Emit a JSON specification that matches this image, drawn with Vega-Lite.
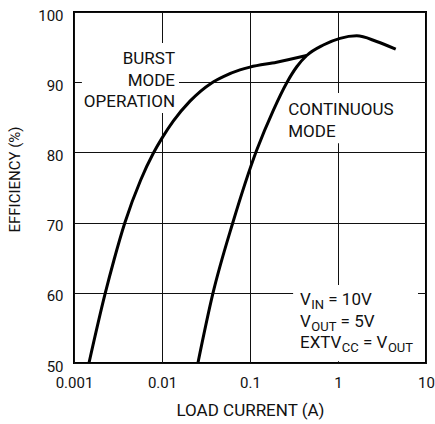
{
  "$schema": "https://vega.github.io/schema/vega-lite/v6.json",
  "width": 352,
  "height": 351,
  "autosize": "none",
  "padding": {"left": 74, "top": 12, "right": 9, "bottom": 61},
  "background": "white",
  "config": {
    "view": {"stroke": "#000", "strokeWidth": 2},
    "axis": {
      "grid": true,
      "gridColor": "#111",
      "gridWidth": 1,
      "gridOpacity": 1,
      "domain": false,
      "ticks": false,
      "labelFont": "Roboto",
      "labelFontSize": 15,
      "labelColor": "#111",
      "titleFont": "Roboto",
      "titleFontWeight": "normal",
      "titleColor": "#111"
    }
  },
  "datasets": {
    "curves": [
      {"series": "burst", "current": 0.00148, "eff": 50},
      {"series": "burst", "current": 0.00225, "eff": 59.8},
      {"series": "burst", "current": 0.002847, "eff": 64.67},
      {"series": "burst", "current": 0.003767, "eff": 69.9},
      {"series": "burst", "current": 0.005728, "eff": 76.07},
      {"series": "burst", "current": 0.007962, "eff": 79.87},
      {"series": "burst", "current": 0.01008, "eff": 82.1},
      {"series": "burst", "current": 0.01342, "eff": 84.45},
      {"series": "burst", "current": 0.0208, "eff": 87.3},
      {"series": "burst", "current": 0.0367, "eff": 89.9},
      {"series": "burst", "current": 0.0498, "eff": 90.8},
      {"series": "burst", "current": 0.0769, "eff": 91.75},
      {"series": "burst", "current": 0.1, "eff": 92.15},
      {"series": "burst", "current": 0.201, "eff": 92.85},
      {"series": "burst", "current": 0.441, "eff": 93.8},
      {"series": "continuous", "current": 0.0256, "eff": 50},
      {"series": "continuous", "current": 0.0377, "eff": 59.8},
      {"series": "continuous", "current": 0.0635, "eff": 69.9},
      {"series": "continuous", "current": 0.119, "eff": 80.3},
      {"series": "continuous", "current": 0.184, "eff": 86.0},
      {"series": "continuous", "current": 0.261, "eff": 89.9},
      {"series": "continuous", "current": 0.34, "eff": 92.2},
      {"series": "continuous", "current": 0.441, "eff": 93.8},
      {"series": "continuous", "current": 0.681, "eff": 95.3},
      {"series": "continuous", "current": 1.054, "eff": 96.25},
      {"series": "continuous", "current": 1.63, "eff": 96.6},
      {"series": "continuous", "current": 2.75, "eff": 95.8},
      {"series": "continuous", "current": 4.53, "eff": 94.7}
    ],
    "boxes": [
      {"x1": 0.00123, "x2": 0.0156, "y1": 85.6, "y2": 95.6},
      {"x1": 0.25, "x2": 4.11, "y1": 81.3, "y2": 88.46},
      {"x1": 0.309, "x2": 8.11, "y1": 50.25, "y2": 61.1}
    ],
    "labels": [
      {"text": "BURST", "x": 0.01406, "y": 92.59, "align": "right", "role": "main"},
      {"text": "MODE", "x": 0.01406, "y": 89.5, "align": "right", "role": "main"},
      {"text": "OPERATION", "x": 0.01406, "y": 86.51, "align": "right", "role": "main"},
      {"text": "CONTINUOUS", "x": 0.272, "y": 85.33, "align": "left", "role": "main"},
      {"text": "MODE", "x": 0.272, "y": 82.24, "align": "left", "role": "main"},
      {"text": "V", "x": 0.37, "y": 58.26, "align": "left", "role": "main"},
      {"text": "IN", "x": 0.4973, "y": 58.26, "align": "left", "role": "sub"},
      {"text": "= 10V", "x": 0.7757, "y": 58.26, "align": "left", "role": "main"},
      {"text": "V", "x": 0.37, "y": 55.17, "align": "left", "role": "main"},
      {"text": "OUT", "x": 0.4973, "y": 55.17, "align": "left", "role": "sub"},
      {"text": "= 5V", "x": 1.07, "y": 55.17, "align": "left", "role": "main"},
      {"text": "EXTV", "x": 0.37, "y": 52.09, "align": "left", "role": "main"},
      {"text": "CC", "x": 1.105, "y": 52.09, "align": "left", "role": "sub"},
      {"text": "= V", "x": 1.923, "y": 52.09, "align": "left", "role": "main"},
      {"text": "OUT", "x": 3.69, "y": 52.09, "align": "left", "role": "sub"}
    ]
  },
  "layer": [
    {
      "data": {"name": "boxes"},
      "mark": {"type": "rect", "fill": "white", "stroke": null},
      "encoding": {
        "x": {"field": "x1", "type": "quantitative", "scale": {"type": "log", "domain": [0.001, 10], "nice": false},
              "axis": {"values": [0.001, 0.01, 0.1, 1, 10], "format": "~g", "title": "LOAD CURRENT (A)", "titleFontSize": 17, "labelPadding": 12, "labelFlush": false, "labelOverlap": false, "titleY": 47, "titleBaseline": "middle"}},
        "x2": {"field": "x2"},
        "y": {"field": "y1", "type": "quantitative", "scale": {"domain": [50, 100], "nice": false, "zero": false},
              "axis": {"values": [50, 60, 70, 80, 90, 100], "title": "EFFICIENCY (%)", "titleFontSize": 15, "labelPadding": 11, "labelBaseline": "middle", "labelOffset": 3, "titleX": -60, "titleY": 167, "titleAngle": -90, "titleAlign": "center", "titleBaseline": "middle"}},
        "y2": {"field": "y2"}
      }
    },
    {
      "data": {"name": "curves"},
      "mark": {"type": "line", "color": "#000", "strokeWidth": 3, "interpolate": "monotone"},
      "encoding": {
        "x": {"field": "current", "type": "quantitative"},
        "y": {"field": "eff", "type": "quantitative"},
        "detail": {"field": "series"}
      }
    },
    {
      "data": {"name": "labels"},
      "transform": [{"filter": "datum.role === 'main' && datum.align === 'right'"}],
      "mark": {"type": "text", "align": "right", "baseline": "alphabetic", "font": "Roboto", "fontSize": 17, "color": "#111"},
      "encoding": {
        "x": {"field": "x", "type": "quantitative"},
        "y": {"field": "y", "type": "quantitative"},
        "text": {"field": "text"}
      }
    },
    {
      "data": {"name": "labels"},
      "transform": [{"filter": "datum.role === 'main' && datum.align === 'left'"}],
      "mark": {"type": "text", "align": "left", "baseline": "alphabetic", "font": "Roboto", "fontSize": 17, "color": "#111"},
      "encoding": {
        "x": {"field": "x", "type": "quantitative"},
        "y": {"field": "y", "type": "quantitative"},
        "text": {"field": "text"}
      }
    },
    {
      "data": {"name": "labels"},
      "transform": [{"filter": "datum.role === 'sub'"}],
      "mark": {"type": "text", "align": "left", "baseline": "alphabetic", "font": "Roboto", "fontSize": 13, "dy": 4, "color": "#111"},
      "encoding": {
        "x": {"field": "x", "type": "quantitative"},
        "y": {"field": "y", "type": "quantitative"},
        "text": {"field": "text"}
      }
    }
  ]
}
